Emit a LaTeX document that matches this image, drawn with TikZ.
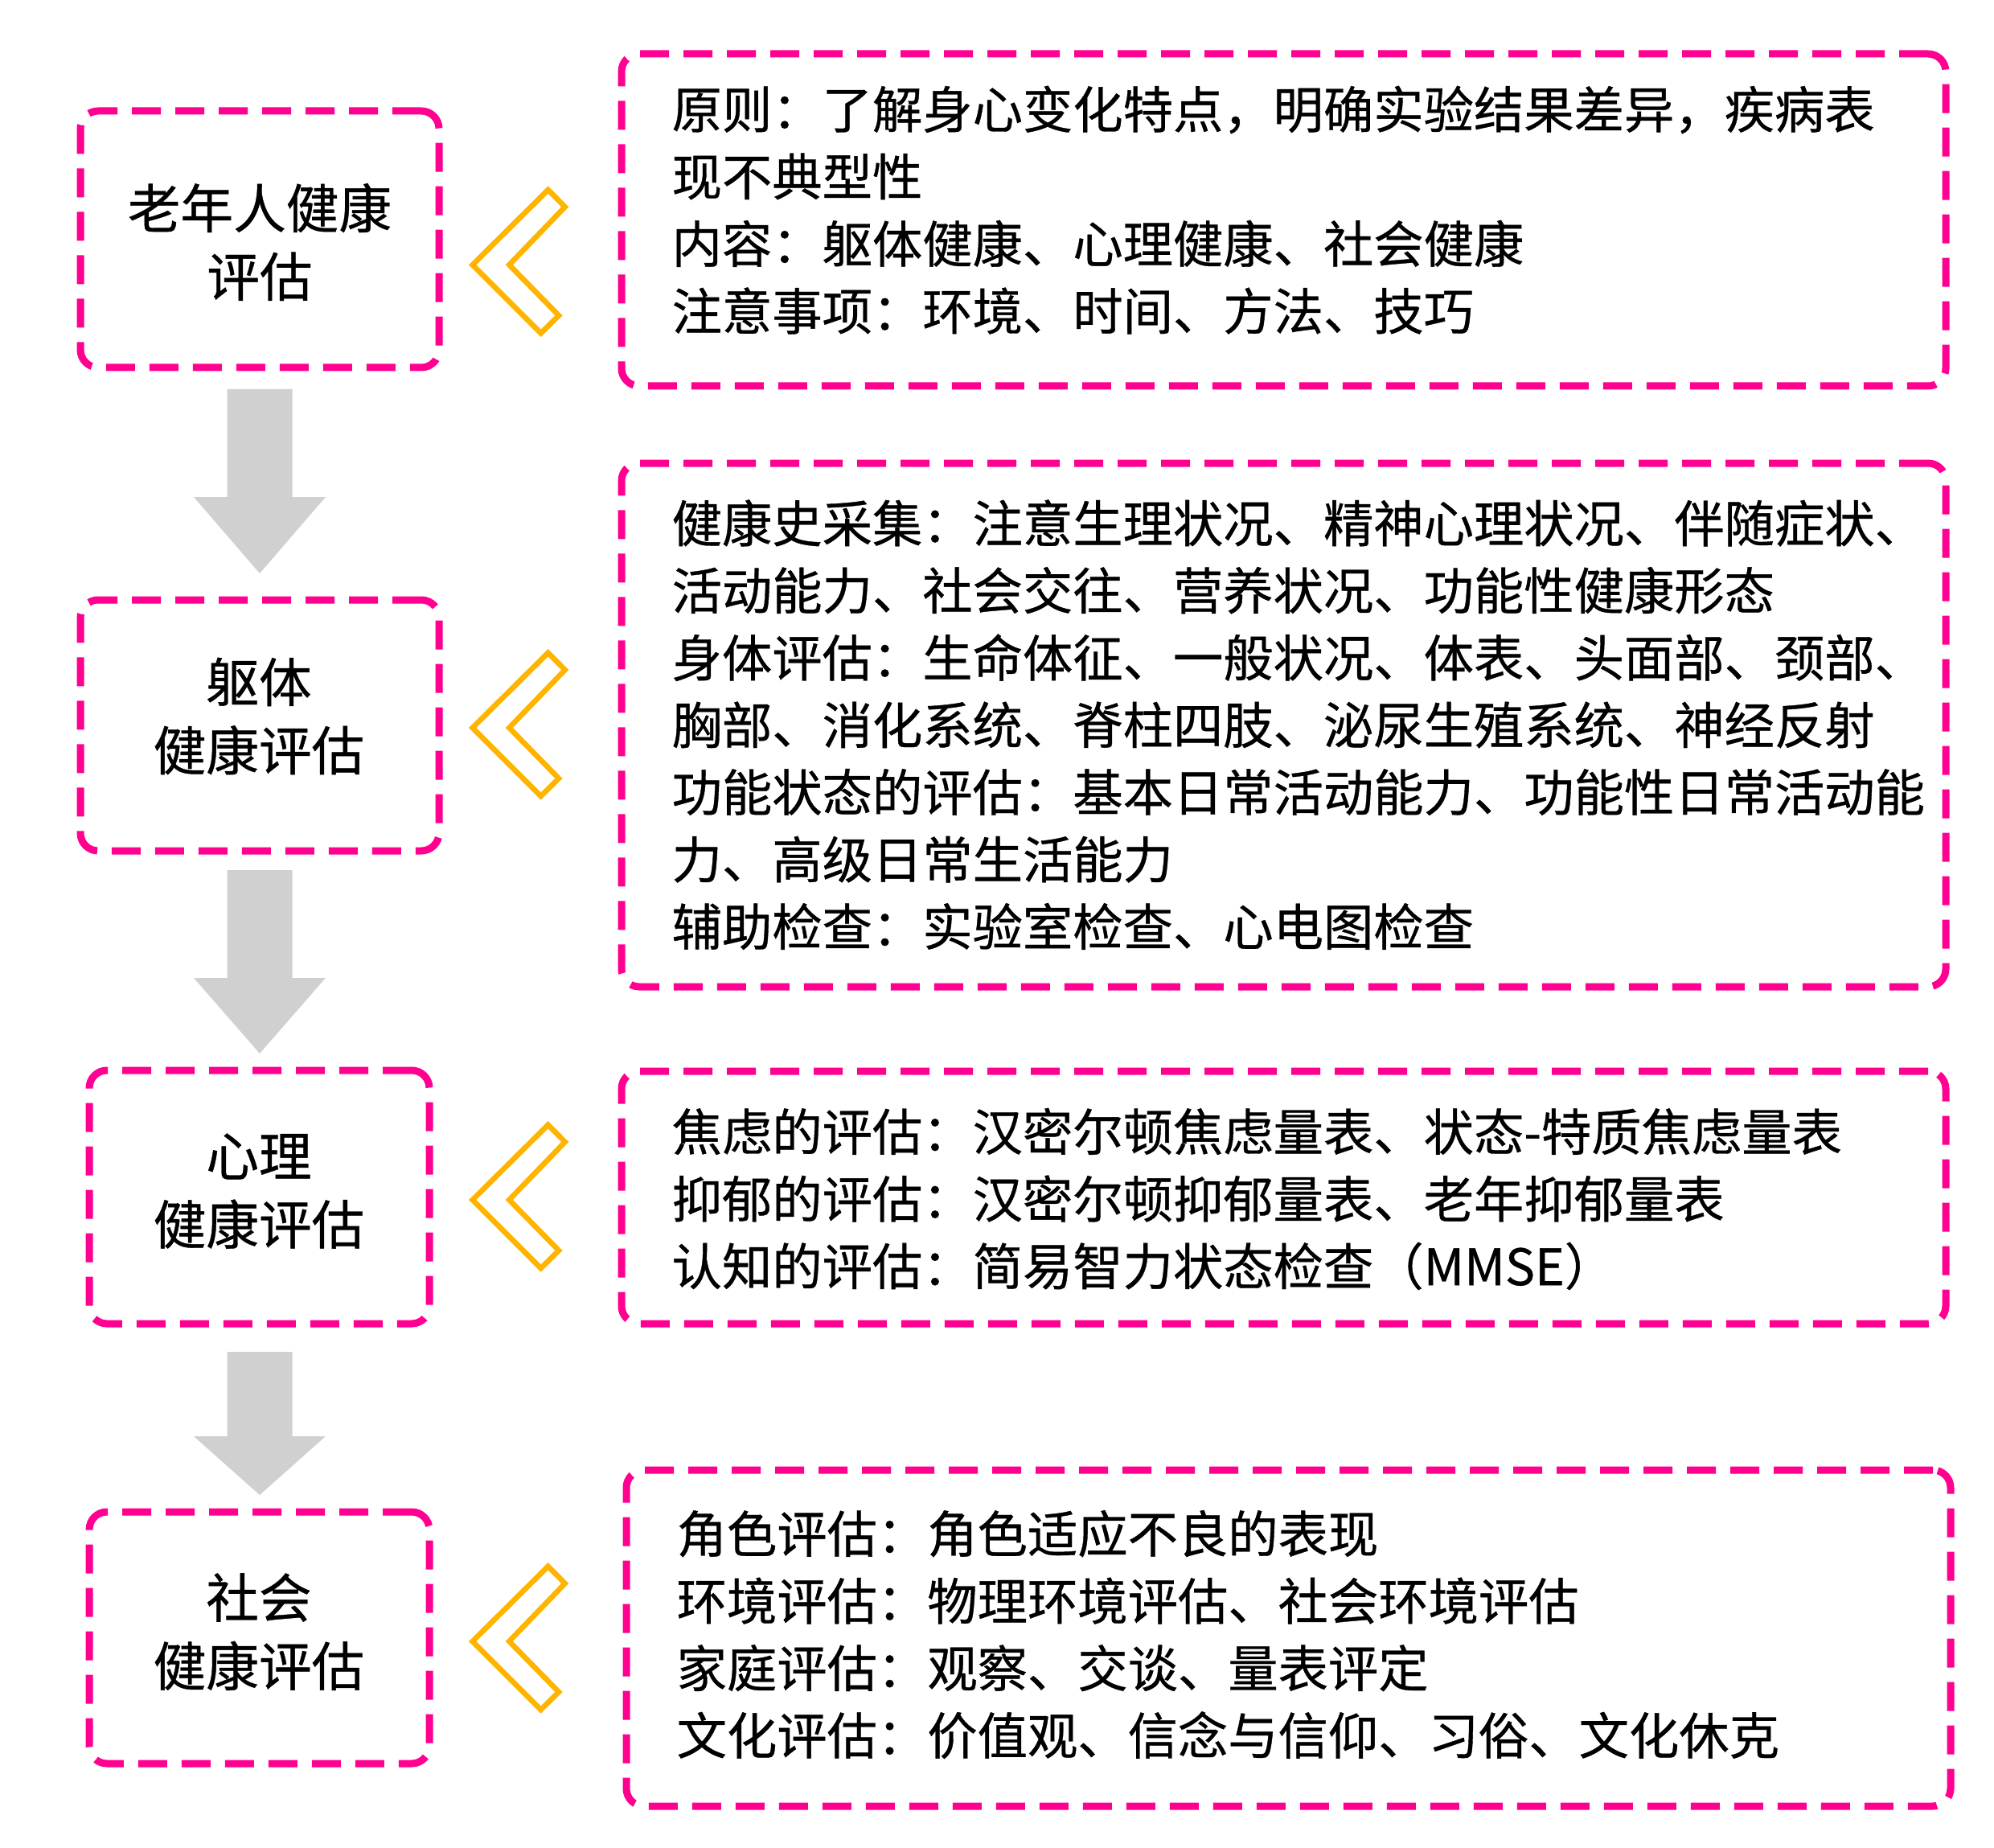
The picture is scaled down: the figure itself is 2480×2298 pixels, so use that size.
\documentclass[tikz,border=0pt]{standalone}
\usepackage{fontspec}
\setmainfont{Noto Sans CJK SC}[FakeBold=0.6]
\usetikzlibrary{calc}
\definecolor{pinkc}{RGB}{255,0,144}
\definecolor{yellowc}{RGB}{255,180,0}
\definecolor{grayc}{RGB}{208,208,208}
\tikzset{
  dbox/.style={draw=pinkc, line width=2.7pt, dash pattern=on 10.8pt off 5.4pt,
    rounded corners=6.6pt, inner sep=0pt, outer sep=0pt},
  ltext/.style={align=center, inner sep=0pt, font=\fontsize{19.7pt}{25.5pt}\selectfont},
  rtext/.style={align=left, anchor=west, inner sep=0pt, font=\fontsize{18.7pt}{25.08pt}\selectfont},
  chev/.pic={\draw[yellowc, line width=2pt, line join=miter]
    (0,0) -- (94,-93.3) -- (115,-72) -- (45.6,0) -- (107.3,63) -- (85,85) -- cycle;}
}
% block arrow: #1 start coordinate (top of shaft), #2 tip coordinate, #3 head length
\newcommand\blockarrow[3]{%
  \fill[grayc] ($(#1)+(-40.5,0)$) -- ($(#1)+(40.5,0)$) -- ($(#2)+(40.5,-#3)$)
    -- ($(#2)+(82,-#3)$) -- (#2) -- ($(#2)+(-82,-#3)$) -- ($(#2)+(-40.5,-#3)$) -- cycle;}
\begin{document}
\begin{tikzpicture}[x=0.3pt,y=-0.3pt]
\useasboundingbox[fill=white] (0,0) rectangle (2480,2298);

% left boxes
\node[dbox, minimum width=133.8pt, minimum height=95.7pt] (b1) at (323,297.5) {};
\node[dbox, minimum width=133.8pt, minimum height=93.6pt] (b2) at (323,902) {};
\node[dbox, minimum width=126.9pt, minimum height=94.5pt] (b3) at (322.5,1488.5) {};
\node[dbox, minimum width=126.9pt, minimum height=93.9pt] (b4) at (322.5,2036.5) {};

\node[ltext] (t1) at (323,301) {老年人健康\\评估};
\node[ltext] (t2) at (322,890.5) {躯体\\健康评估};
\node[ltext] (t3) at (322,1481) {心理\\健康评估};
\node[ltext] (t4) at (322,2029) {社会\\健康评估};

% right boxes
\node[dbox, minimum width=494.1pt, minimum height=123.9pt] (r1) at (1596.5,273.5) {};
\node[dbox, minimum width=494.1pt, minimum height=195.3pt] (r2) at (1596.5,901.5) {};
\node[dbox, minimum width=494.1pt, minimum height=94.2pt] (r3) at (1596.5,1489) {};
\node[dbox, minimum width=494.1pt, minimum height=125.4pt] (r4) at (1602.5,2037) {};

\node[rtext] (s1) at (835,261.1) {原则：了解身心变化特点，明确实验结果差异，疾病表\\现不典型性\\内容：躯体健康、心理健康、社会健康\\注意事项：环境、时间、方法、技巧};
\node[rtext] (s2) at (835,901.2) {健康史采集：注意生理状况、精神心理状况、伴随症状、\\活动能力、社会交往、营养状况、功能性健康形态\\身体评估：生命体征、一般状况、体表、头面部、颈部、\\胸部、消化系统、脊柱四肢、泌尿生殖系统、神经反射\\功能状态的评估：基本日常活动能力、功能性日常活动能\\力、高级日常生活能力\\辅助检查：实验室检查、心电图检查};
\node[rtext] (s3) at (835,1491) {焦虑的评估：汉密尔顿焦虑量表、状态-特质焦虑量表\\抑郁的评估：汉密尔顿抑郁量表、老年抑郁量表\\认知的评估：简易智力状态检查（MMSE）};
\node[rtext] (s4) at (841,2032.5) {角色评估：角色适应不良的表现\\环境评估：物理环境评估、社会环境评估\\家庭评估：观察、交谈、量表评定\\文化评估：价值观、信念与信仰、习俗、文化休克};

% chevrons
\pic at (587.7,329.3) {chev};
\pic at (587.7,905) {chev};
\pic at (587.7,1492) {chev};
\pic at (587.7,2041) {chev};

% gray block arrows between the left boxes
\coordinate (a1s) at ($(b1.south)+(0,27)$);
\coordinate (a1e) at ($(b2.north)+(0,-33)$);
\coordinate (a2s) at ($(b2.south)+(0,24)$);
\coordinate (a2e) at ($(b3.north)+(0.5,-21)$);
\coordinate (a3s) at ($(b3.south)+(0.5,35)$);
\coordinate (a3e) at ($(b4.north)+(0.5,-21)$);
\blockarrow{a1s}{a1e}{95}
\blockarrow{a2s}{a2e}{94}
\blockarrow{a3s}{a3e}{73}
\end{tikzpicture}
\end{document}
